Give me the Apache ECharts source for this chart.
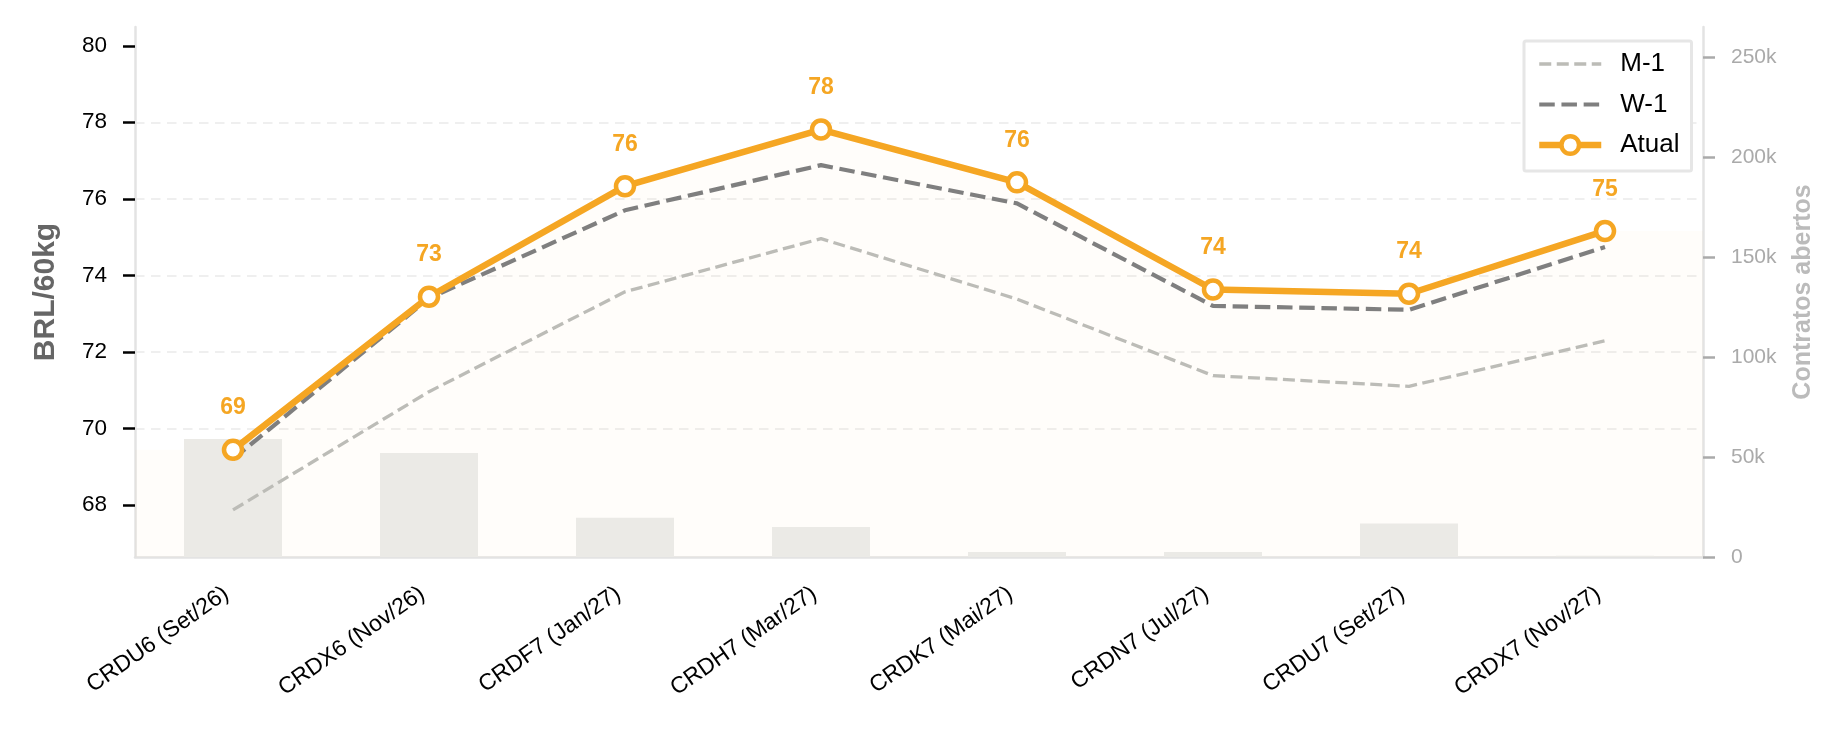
<!DOCTYPE html>
<html>
<head>
<meta charset="utf-8">
<script src="https://cdn.jsdelivr.net/npm/echarts@6.0.0/dist/echarts.min.js"></script>
<style>
  html, body { margin: 0; padding: 0; background: #fff; }
  #chart { width: 1846px; height: 734px; }
</style>
</head>
<body>
<div id="chart"></div>
<script>
// dados
const categories = [
  'CRDU6 (Set/26)', 'CRDX6 (Nov/26)', 'CRDF7 (Jan/27)', 'CRDH7 (Mar/27)',
  'CRDK7 (Mai/27)', 'CRDN7 (Jul/27)', 'CRDU7 (Set/27)', 'CRDX7 (Nov/27)',
]
const atual = [69.44, 73.44, 76.33, 77.81, 76.43, 73.63, 73.52, 75.16]
const w1 = [69.2, 73.4, 75.7, 76.88, 75.88, 73.2, 73.1, 74.74]
const m1 = [67.87, 70.96, 73.57, 74.96, 73.38, 71.38, 71.1, 72.29]
const contratos = [59000, 52000, 19600, 15000, 2500, 2500, 16800, 600]
const priceTicks = [68, 70, 72, 74, 76, 78, 80]
const oiTicks = [0, 50000, 100000, 150000, 200000, 250000]

const font = "'Liberation Sans', Arial, sans-serif"
const orange = '#F5A623'

// faixa sob a curva atual, estendida até as bordas das categorias
const fillData = [[-0.5, atual[0]]]
  .concat(atual.map((v, i) => [i, v]))
  .concat([[categories.length - 0.5, atual[atual.length - 1]]])

const chart = echarts.init(document.getElementById('chart'))

const chartOptions = {
  backgroundColor: '#fff',
  animation: false,
  textStyle: { fontFamily: font },
  grid: { left: 135, right: 143, top: 27, bottom: 177, containLabel: false },
  legend: {
    orient: 'vertical',
    left: 1524,
    top: 41,
    padding: [10, 12, 13, 12],
    itemWidth: 62,
    itemHeight: 22,
    itemGap: 14.5,
    selectedMode: false,
    backgroundColor: '#fff',
    borderColor: '#e6e6e6',
    borderWidth: 3,
    borderRadius: 2,
    textStyle: { fontFamily: font, fontSize: 26, color: '#000', padding: [0, 0, 0, 14] },
    data: [
      { name: 'M-1', itemStyle: { opacity: 0 }, lineStyle: { width: 3.3 } },
      { name: 'W-1', itemStyle: { opacity: 0 }, lineStyle: { width: 4.2 } },
      { name: 'Atual', itemStyle: { borderWidth: 4.5 }, lineStyle: { width: 6.5 } },
    ],
  },
  xAxis: [
    {
      type: 'category',
      data: categories,
      boundaryGap: true,
      axisLine: { onZero: false, lineStyle: { color: '#e3e3e3', width: 2.5 } },
      axisTick: { alignWithLabel: true, length: 11, lineStyle: { color: '#000', width: 2.5 } },
      axisLabel: { rotate: 35, margin: 30, padding: [0, 8, 0, 0], fontSize: 23, color: '#000', fontFamily: font },
      splitLine: { show: false },
    },
    {
      type: 'value',
      min: -0.5,
      max: categories.length - 0.5,
      show: false,
    },
  ],
  yAxis: [
    {
      type: 'value',
      position: 'left',
      min: 66.64,
      max: 80.49,
      splitNumber: 7,
      name: 'BRL/60kg',
      nameLocation: 'middle',
      nameRotate: 90,
      nameGap: 74,
      nameTextStyle: { fontSize: 30, fontWeight: 'bold', color: '#666', fontFamily: font },
      axisLine: { show: true, onZero: false, lineStyle: { color: '#e3e3e3', width: 2.5 } },
      axisTick: { show: true, customValues: priceTicks, length: 12, lineStyle: { color: '#000', width: 2.5 } },
      axisLabel: { customValues: priceTicks, margin: 28, fontSize: 22.5, color: '#000', fontFamily: font },
      splitLine: {
        show: true,
        showMinLine: false,
        showMaxLine: false,
        lineStyle: { color: '#efefef', width: 2, type: [9.5, 6.5] },
      },
    },
    {
      type: 'value',
      position: 'right',
      min: 0,
      max: 265000,
      interval: 50000,
      name: 'Contratos abertos',
      nameLocation: 'middle',
      nameRotate: 90,
      nameGap: 88,
      nameTextStyle: { fontSize: 25, fontWeight: 'bold', color: '#bbb', fontFamily: font },
      axisLine: { show: true, onZero: false, lineStyle: { color: '#e3e3e3', width: 2.5 } },
      axisTick: { show: true, customValues: oiTicks, length: 12, lineStyle: { color: '#aaa', width: 2.5 } },
      axisLabel: {
        customValues: oiTicks,
        margin: 28,
        fontSize: 21,
        color: '#aaa',
        fontFamily: font,
        formatter: (v) => (v === 0 ? '0' : v / 1000 + 'k'),
      },
      splitLine: { show: false },
    },
  ],
  series: [
    {
      name: 'faixa',
      type: 'line',
      xAxisIndex: 1,
      yAxisIndex: 0,
      data: fillData,
      symbol: 'none',
      silent: true,
      lineStyle: { width: 0 },
      areaStyle: { color: orange, opacity: 0.022, origin: 'start' },
      z: 1,
    },
    {
      name: 'Contratos abertos',
      type: 'bar',
      yAxisIndex: 1,
      data: contratos,
      barWidth: '50%',
      itemStyle: { color: '#ebeae6' },
      silent: true,
      z: 2,
    },
    {
      name: 'M-1',
      type: 'line',
      data: m1,
      symbol: 'none',
      lineStyle: { color: '#bcbcb7', width: 3.3, type: [12, 5.5] },
      itemStyle: { color: '#bcbcb7' },
      z: 3,
    },
    {
      name: 'W-1',
      type: 'line',
      data: w1,
      symbol: 'none',
      lineStyle: { color: '#7f7f7f', width: 4.2, type: [15.5, 6.7] },
      itemStyle: { color: '#7f7f7f' },
      z: 4,
    },
    {
      name: 'Atual',
      type: 'line',
      data: atual,
      symbol: 'circle',
      symbolSize: 18,
      lineStyle: { color: orange, width: 6.5 },
      itemStyle: { color: '#fff', borderColor: orange, borderWidth: 4.5 },
      label: {
        show: true,
        position: 'top',
        distance: 19,
        color: orange,
        fontSize: 23,
        fontWeight: 'bold',
        fontFamily: font,
        formatter: (p) => Math.round(p.value),
      },
      z: 5,
    },
  ],
}

chart.setOption(chartOptions)
</script>
</body>
</html>
